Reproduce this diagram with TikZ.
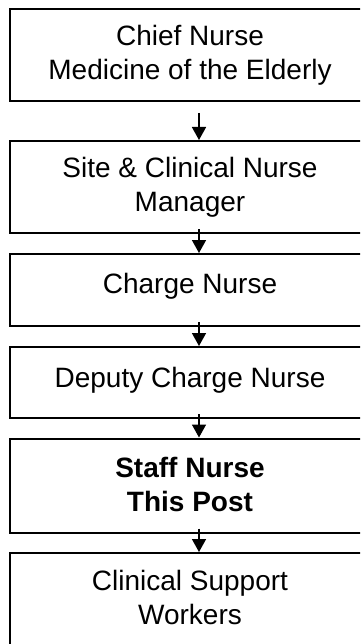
\documentclass[tikz,border=0pt]{standalone}
\usepackage{fontspec}
\setmainfont{Liberation Sans}
\usetikzlibrary{arrows.meta}
\begin{document}
\begin{tikzpicture}[x=1pt,y=-1pt,
  post/.style={draw=black, line width=2pt, rectangle, minimum width=360pt,
    outer sep=0pt, inner sep=0pt},
  posttext/.style={anchor=north, align=center, inner sep=0pt,
    font=\fontsize{28pt}{34pt}\selectfont},
  link/.style={line width=1.6pt, -{Triangle[width=14pt,length=13pt]}}]
\useasboundingbox (0,0) rectangle (360,644);
\clip (0,0) rectangle (360,644);
\fill[white] (0,0) rectangle (360,644);

% the chain of posts, top to bottom
\node[post, minimum height=92pt] (b1) at (190,55) {};
\node[post, minimum height=92pt] (b2) at (190,187) {};
\node[post, minimum height=72pt] (b3) at (190,290) {};
\node[post, minimum height=71pt] (b4) at (190,382.5) {};
\node[post, minimum height=94pt] (b5) at (190,485.5) {};
\node[post, minimum height=92pt] (b6) at (190,599) {};

\node[posttext] (t1) at ([yshift=-16pt]b1.north) {Chief Nurse\\Medicine of the Elderly};
\node[posttext] (t2) at ([yshift=-16pt]b2.north) {Site \& Clinical Nurse\\Manager};
\node[posttext] (t3) at ([yshift=-19pt]b3.north) {Charge Nurse};
\node[posttext] (t4) at ([yshift=-20pt]b4.north) {Deputy Charge Nurse};
\node[posttext, font=\fontsize{28pt}{34pt}\selectfont\bfseries] (t5) at ([yshift=-19pt]b5.north) {Staff Nurse\\This Post};
\node[posttext] (t6) at ([yshift=-17pt]b6.north) {Clinical Support\\Workers};

% reporting lines
\draw[link] ([xshift=9pt,yshift=-12pt]b1.south) -- ([xshift=9pt,yshift=1pt]b2.north);
\draw[link] ([xshift=9pt,yshift=4pt]b2.south) -- ([xshift=9pt,yshift=1pt]b3.north);
\draw[link] ([xshift=9pt,yshift=4pt]b3.south) -- ([xshift=9pt,yshift=1pt]b4.north);
\draw[link] ([xshift=9pt,yshift=4pt]b4.south) -- ([xshift=9pt,yshift=1pt]b5.north);
\draw[link] ([xshift=9pt,yshift=4pt]b5.south) -- ([xshift=9pt,yshift=1pt]b6.north);
\end{tikzpicture}
\end{document}
